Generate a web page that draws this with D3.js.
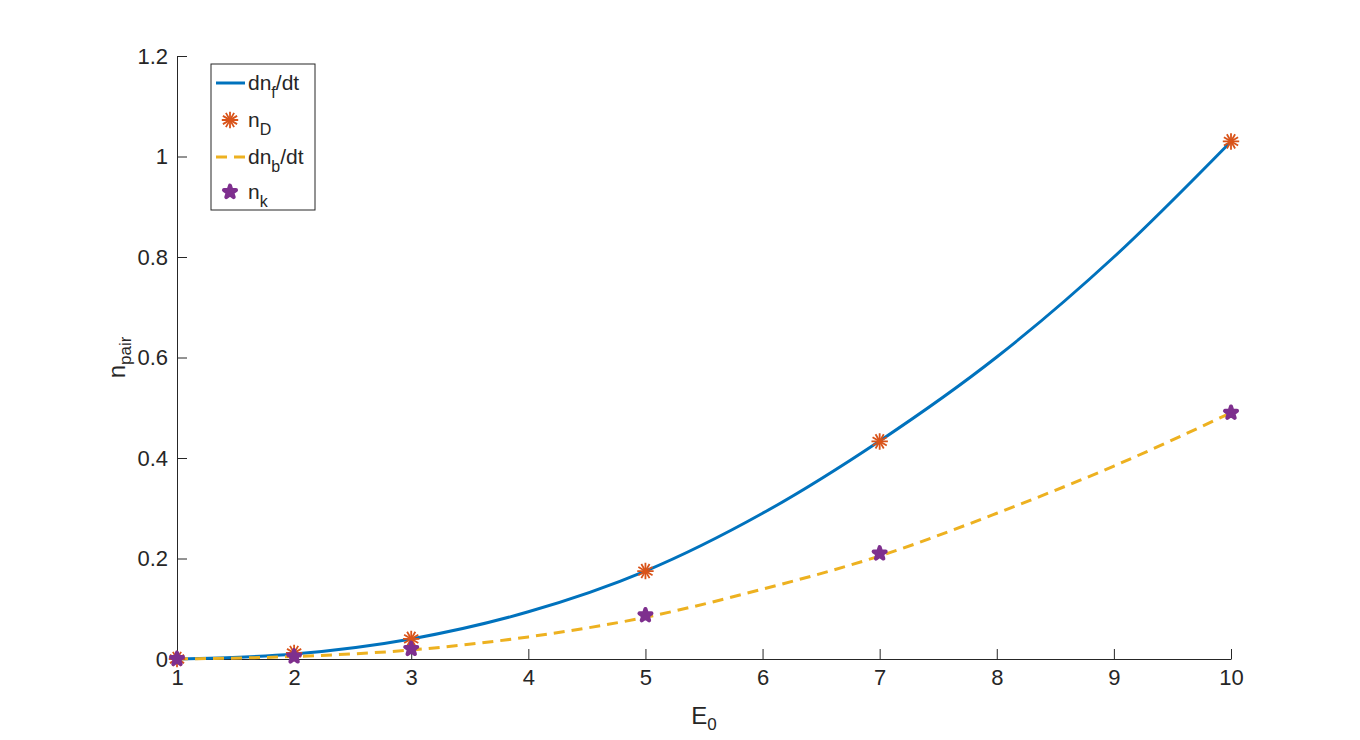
<!DOCTYPE html>
<html>
<head>
<meta charset="utf-8">
<script src="https://cdn.jsdelivr.net/npm/d3@7"></script>
<style>
  body { margin: 0; background: #fff; }
  text { font-family: "Liberation Sans", Arial, Helvetica, sans-serif; fill: #262626; }
</style>
</head>
<body>
<div id="container"></div>
<script>
let width = 1360;
let height = 740;

// curves at integer E0
var curveX = [1, 2, 3, 4, 5, 6, 7, 8, 9, 10];
var forwardY = [0, 0.01, 0.04, 0.094, 0.175, 0.29, 0.434, 0.601, 0.80, 1.03];
var backwardY = [0, 0.005, 0.018, 0.044, 0.083, 0.139, 0.205, 0.29, 0.384, 0.49];

// marker points
var pointX = [1, 2, 3, 5, 7, 10];
var nD = [0, 0.012, 0.04, 0.175, 0.433, 1.03];
var nK = [0, 0.005, 0.02, 0.087, 0.21, 0.49];

var xTicks = [1, 2, 3, 4, 5, 6, 7, 8, 9, 10];
var yTicks = [0, 0.2, 0.4, 0.6, 0.8, 1, 1.2];

var colors = {blue: "#0072BD", orange: "#D95319", yellow: "#EDB120", purple: "#7E2F8E"};

let margin = {left: 177, top: 56, right: 129, bottom: 81};

let viz = d3.select("#container").append("svg")
    .attr("width", width)
    .attr("height", height);

let x = d3.scaleLinear().domain([1, 10]).range([margin.left, width - margin.right]);
let y = d3.scaleLinear().domain([0, 1.2]).range([height - margin.bottom, margin.top]);

// axes, ticks pointing inward
let xAxis = d3.axisBottom(x).tickValues(xTicks).tickFormat(d3.format("d"))
  .tickSizeInner(-10).tickSizeOuter(0).tickPadding(10);
let yAxis = d3.axisLeft(y).tickValues(yTicks).tickFormat(function(d){ return d3.format("")(+d.toFixed(1)); })
  .tickSizeInner(-10).tickSizeOuter(0).tickPadding(9);

let gx = viz.append("g").attr("transform", "translate(0," + y(0) + ")").call(xAxis);
let gy = viz.append("g").attr("transform", "translate(" + x(1) + ",0)").call(yAxis);

[gx, gy].forEach(function(g){
  g.selectAll("path, line").attr("stroke", "#262626").attr("stroke-width", 1);
  g.selectAll("text").style("font-size", "22px").attr("fill", "#262626")
    .style("font-family", '"Liberation Sans", Arial, sans-serif');
});

let line = d3.line()
  .x(function(d){ return x(d[0]); })
  .y(function(d){ return y(d[1]); })
  .curve(d3.curveMonotoneX);

viz.append("path")
  .datum(d3.zip(curveX, forwardY))
  .attr("d", line)
  .attr("fill", "none")
  .attr("stroke", colors.blue)
  .attr("stroke-width", 3);

viz.append("path")
  .datum(d3.zip(curveX, backwardY))
  .attr("d", line)
  .attr("fill", "none")
  .attr("stroke", colors.yellow)
  .attr("stroke-width", 3)
  .attr("stroke-dasharray", "11,7");

// asterisk marker: two 6-ray asterisks, one rotated
let star6 = d3.symbol().type(d3.symbolAsterisk).size(190);
let pent = d3.symbol().type(d3.symbolStar).size(45);

function drawBurst(g, cx, cy) {
  [0, 30].forEach(function(rot){
    g.append("path")
      .attr("d", star6())
      .attr("transform", "translate(" + cx + "," + cy + ") rotate(" + rot + ")")
      .attr("fill", "none")
      .attr("stroke", colors.orange)
      .attr("stroke-width", 1.8);
  });
}
function drawPent(g, cx, cy) {
  g.append("path")
    .attr("d", pent())
    .attr("transform", "translate(" + cx + "," + cy + ")")
    .attr("fill", colors.purple)
    .attr("stroke", colors.purple)
    .attr("stroke-width", 4)
    .attr("stroke-linejoin", "round");
}

let dGroup = viz.append("g");
d3.zip(pointX, nD).forEach(function(d){ drawBurst(dGroup, x(d[0]), y(d[1])); });

let kGroup = viz.append("g");
d3.zip(pointX, nK).forEach(function(d){ drawPent(kGroup, x(d[0]), y(d[1])); });

// axis labels
let xl = viz.append("text")
  .attr("x", (x(1) + x(10)) / 2)
  .attr("y", 724)
  .attr("text-anchor", "middle")
  .style("font-size", "24px");
xl.append("tspan").text("E");
xl.append("tspan").text("0").style("font-size", "17px").attr("dy", 6);

let yl = viz.append("text")
  .attr("transform", "translate(125," + ((y(0) + y(1.2)) / 2) + ") rotate(-90)")
  .attr("text-anchor", "middle")
  .style("font-size", "24px");
yl.append("tspan").text("n");
yl.append("tspan").text("pair").style("font-size", "17px").attr("dy", 6);

// legend
let legend = viz.append("g").attr("transform", "translate(211,64)");
legend.append("rect")
  .attr("width", 104).attr("height", 146)
  .attr("fill", "#fff").attr("stroke", "#262626").attr("stroke-width", 1);

var legendNames = [["dn", "f", "/dt"], ["n", "D", ""], ["dn", "b", "/dt"], ["n", "k", ""]];
var legendRows = [19, 56, 93, 128];

legendNames.forEach(function(nm, i){
  let ly = legendRows[i];
  if (i == 0 || i == 2) {
    legend.append("line")
      .attr("x1", 5).attr("x2", 34).attr("y1", ly).attr("y2", ly)
      .attr("stroke", i == 0 ? colors.blue : colors.yellow)
      .attr("stroke-width", 3)
      .attr("stroke-dasharray", i == 0 ? null : "11,7");
  } else if (i == 1) {
    drawBurst(legend, 19, ly);
  } else {
    drawPent(legend, 19, ly);
  }
  let t = legend.append("text")
    .attr("x", 37).attr("y", ly + 7)
    .style("font-size", "21px");
  t.append("tspan").text(nm[0]);
  t.append("tspan").text(nm[1]).style("font-size", "16px").attr("dy", 8);
  if (nm[2]) t.append("tspan").text(nm[2]).attr("dy", -8);
});
</script>
</body>
</html>
